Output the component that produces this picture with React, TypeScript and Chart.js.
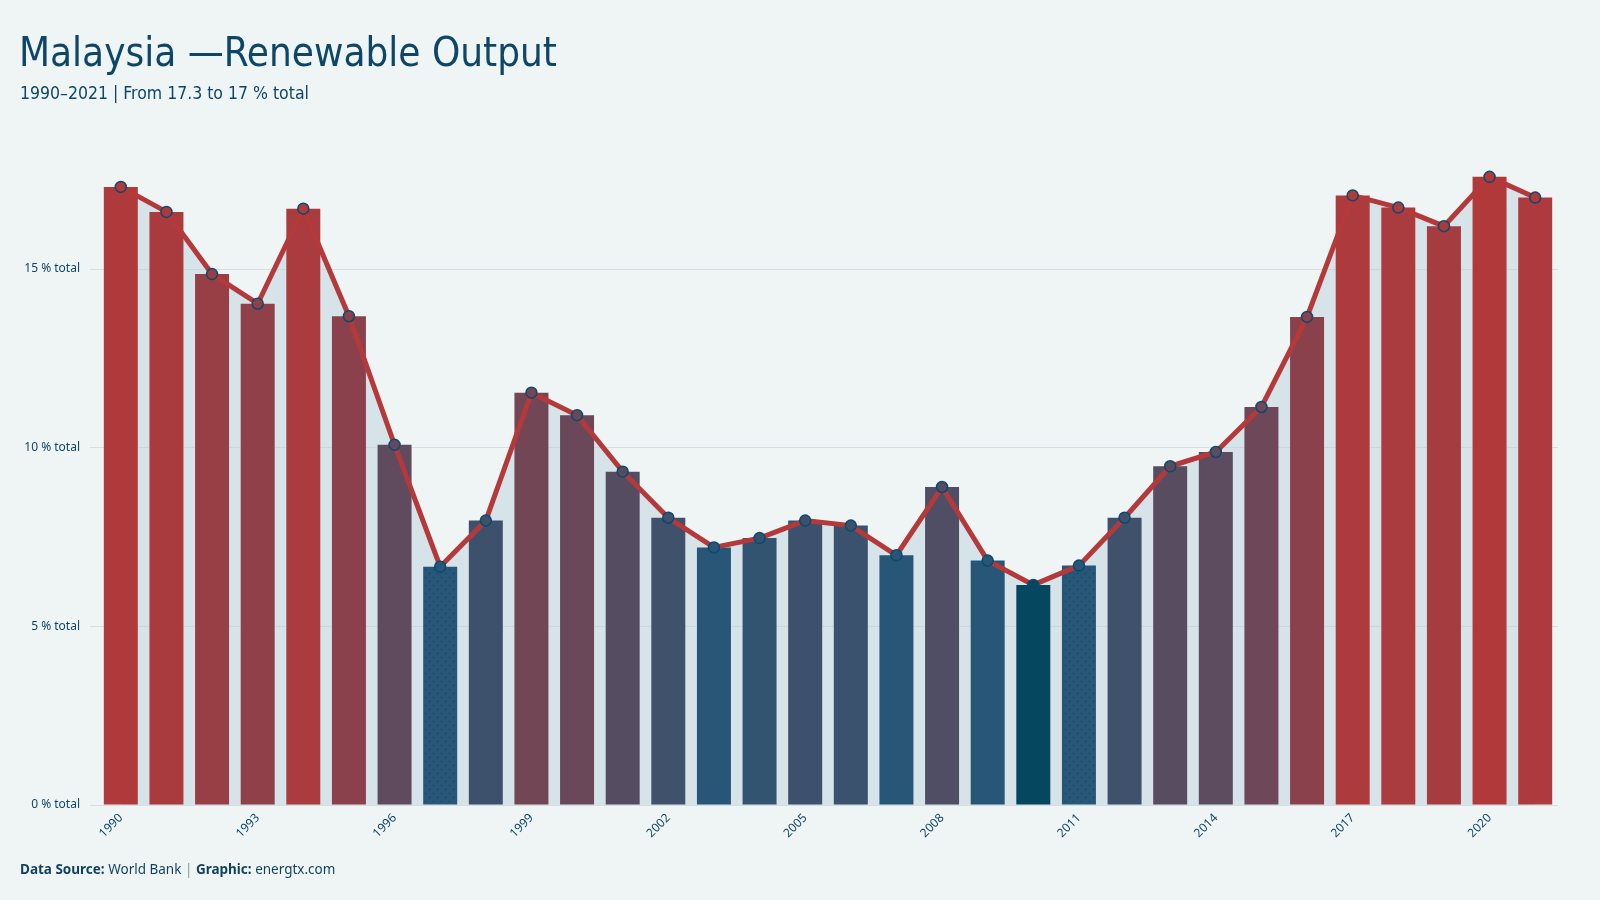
import React, { useEffect, useRef } from "react";
import { Chart, registerables } from "chart.js";

Chart.register(...registerables);

const years = [
  "1990", "1991", "1992", "1993", "1994", "1995", "1996", "1997", "1998", "1999",
  "2000", "2001", "2002", "2003", "2004", "2005", "2006", "2007", "2008", "2009",
  "2010", "2011", "2012", "2013", "2014", "2015", "2016", "2017", "2018", "2019",
  "2020", "2021",
];
const values = [
  17.3, 16.6, 14.86, 14.03, 16.69, 13.68, 10.08, 6.67, 7.96, 11.54,
  10.91, 9.33, 8.04, 7.21, 7.47, 7.96, 7.82, 6.99, 8.9, 6.84,
  6.16, 6.7, 8.04, 9.48, 9.88, 11.14, 13.66, 17.06, 16.72, 16.2,
  17.58, 17.0,
];
const yTickValues = [0, 5, 10, 15];
const yTickSuffix = " % total";
const dottedYears = ["1997", "2011"];

const BG = "#eff5f5";
const INK = "#0e4667";
const LOW = [40, 86, 118];
const HIGH = [178, 57, 58];
const MIN_HL = "#04475f";

function barColor(v: number): string {
  const mn = Math.min(...values);
  const mx = Math.max(...values);
  if (v === mn) return MIN_HL;
  const lo = 7.2;
  let t = (v - lo) / (mx - lo);
  t = Math.max(0, Math.min(1, t));
  t = Math.pow(t, 0.7);
  const c = LOW.map((a, i) => Math.round(a + (HIGH[i] - a) * t));
  return `rgb(${c[0]},${c[1]},${c[2]})`;
}

function dotPattern(base: string): CanvasPattern | string {
  const c = document.createElement("canvas");
  c.width = 8;
  c.height = 8;
  const ctx = c.getContext("2d");
  if (!ctx) return base;
  ctx.fillStyle = base;
  ctx.fillRect(0, 0, 8, 8);
  ctx.fillStyle = "#0b3f5e";
  ctx.fillRect(1, 1, 1, 1);
  ctx.fillRect(5, 5, 1, 1);
  const p = ctx.createPattern(c, "repeat");
  return p || base;
}

function ChartCanvas() {
  const ref = useRef<HTMLCanvasElement | null>(null);
  useEffect(() => {
    if (!ref.current) return;
    const colors = values.map(barColor);
    const barFills = colors.map((c, i) => (dottedYears.includes(years[i]) ? dotPattern(c) : c));
    const font = { family: "'Noto Sans', 'DejaVu Sans', sans-serif", size: 12 };
    const chart = new Chart(ref.current, {
      type: "bar",
      data: {
        labels: years,
        datasets: [
          {
            type: "line",
            data: values,
            borderColor: "#b3393a",
            borderWidth: 5,
            backgroundColor: "rgba(189,209,219,0.5)",
            fill: "origin",
            tension: 0,
            pointRadius: 5.5,
            pointBackgroundColor: colors,
            pointBorderColor: "#0b4a6e",
            pointBorderWidth: 1.5,
            order: 0,
          } as any,
          {
            type: "bar",
            data: values,
            backgroundColor: barFills,
            barPercentage: 0.745,
            categoryPercentage: 1,
            order: 1,
          },
        ],
      },
      options: {
        responsive: false,
        animation: false,
        devicePixelRatio: 1,
        layout: { padding: { top: 144, right: 42, bottom: 50, left: 0 } },
        plugins: {
          legend: { display: false },
          tooltip: { enabled: false },
          filler: { drawTime: "beforeDatasetsDraw" } as any,
        },
        scales: {
          x: {
            grid: { display: false, drawTicks: false },
            border: { display: false },
            ticks: {
              autoSkip: false,
              maxRotation: 45,
              minRotation: 45,
              padding: 6,
              color: INK,
              font,
              callback: (_v: any, i: number) => (i % 3 === 0 ? years[i] : ""),
            },
            afterFit: (s: any) => {
              s.height = 45;
            },
          },
          y: {
            min: 0,
            max: 18.5,
            grid: { color: "#d3dfe3", lineWidth: 1, tickLength: 8, drawTicks: true },
            border: { display: false },
            ticks: {
              stepSize: 5,
              padding: 10,
              color: INK,
              font,
              callback: (v: any) => `${v}${yTickSuffix}`,
            },
            afterBuildTicks: (s: any) => {
              s.ticks = yTickValues.map((v) => ({ value: v }));
            },
            afterFit: (s: any) => {
              s.width = 98;
            },
          },
        },
      } as any,
    });
    return () => chart.destroy();
  }, []);
  return (
    <canvas
      ref={ref}
      width={1600}
      height={900}
      style={{ position: "absolute", left: 0, top: 0, width: 1600, height: 900 }}
    />
  );
}

export default function App() {
  useEffect(() => {
    document.body.style.margin = "0";
    document.body.style.background = BG;
  }, []);
  const condensed = "'DejaVu Sans Condensed', 'Liberation Sans Narrow', 'Roboto', sans-serif";
  return (
    <div style={{ position: "fixed", left: 0, top: 0, width: 1600, height: 900, background: BG, overflow: "hidden" }}>
      <ChartCanvas />
      <div
        style={{
          position: "absolute", left: 19, top: 26, fontFamily: condensed, fontSize: 40,
          lineHeight: "52px", color: INK, whiteSpace: "nowrap",
        }}
      >
        Malaysia —Renewable Output
      </div>
      <div
        style={{
          position: "absolute", left: 20, top: 81, fontFamily: condensed, fontSize: 17.5,
          lineHeight: "24px", color: INK, whiteSpace: "nowrap",
        }}
      >
        1990–2021 | From 17.3 to 17 % total
      </div>
      <div
        style={{
          position: "absolute", left: 20, top: 860, fontFamily: "'Noto Sans', sans-serif", fontSize: 13.5,
          lineHeight: "18px", color: "#123f5e", whiteSpace: "nowrap",
        }}
      >
        <b>Data Source:</b> World Bank <span style={{ color: "#8a9aa5" }}>|</span> <b>Graphic:</b> energtx.com
      </div>
    </div>
  );
}
